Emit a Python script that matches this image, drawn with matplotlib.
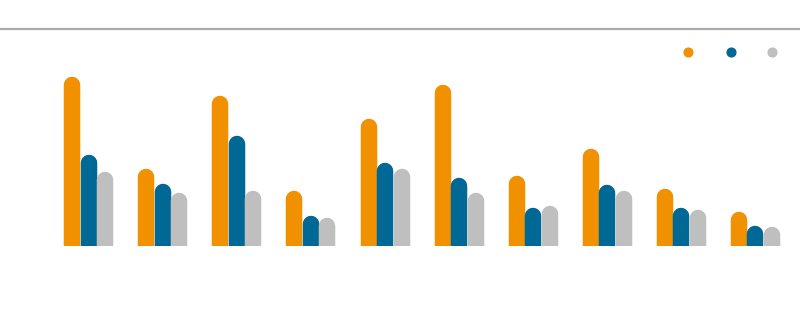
import numpy as np
import matplotlib
matplotlib.use('Agg')
import matplotlib.pyplot as plt

# values (bar heights, arbitrary units)
groups = list(range(10))
series_a = [169, 77, 150, 55, 127, 161, 70, 97, 57, 34]
series_b = [91, 62, 110, 30, 83, 68, 38, 61, 38, 20]
series_c = [74, 53, 55, 28, 77, 53, 40, 55, 36, 19]

colors = ['#F29100', '#006895', '#BFBFBF']
ymax = 217

fig = plt.figure(figsize=(8, 3.23), dpi=100)
ax = fig.add_axes([0, 77 / 323, 1, 217 / 323])
ax.set_xlim(-1.198, 9.601)
ax.set_ylim(0, ymax)

bar_w = 0.2227
# bar width in points so the round cap matches the bar
w_px = bar_w * 800 / (9.601 + 1.198)
lw_pt = w_px * 72 / 100
r = (w_px / 2) * ymax / 217  # cap radius in data units

x = np.array(groups)
for k, (vals, c) in enumerate(zip([series_a, series_b, series_c], colors)):
    xs = x + (k - 1) * bar_w
    for xi, v in zip(xs, vals):
        ax.plot([xi, xi], [0, v - r], color=c, lw=lw_pt,
                solid_capstyle='round', zorder=2 + k * 0.1)

# legend dots (no labels)
for xd, c in zip([688, 731, 772], colors):
    ax.plot(xd / 800, (246 - 52) / 217, 'o', color=c, ms=6.3,
            transform=ax.transAxes, clip_on=False)

for s in ['left', 'right', 'bottom']:
    ax.spines[s].set_visible(False)
ax.spines['top'].set_color('#AAAAAA')
ax.spines['top'].set_linewidth(1.6)
ax.set_xticks([])
ax.set_yticks([])

fig.savefig('out.png', dpi=100)
